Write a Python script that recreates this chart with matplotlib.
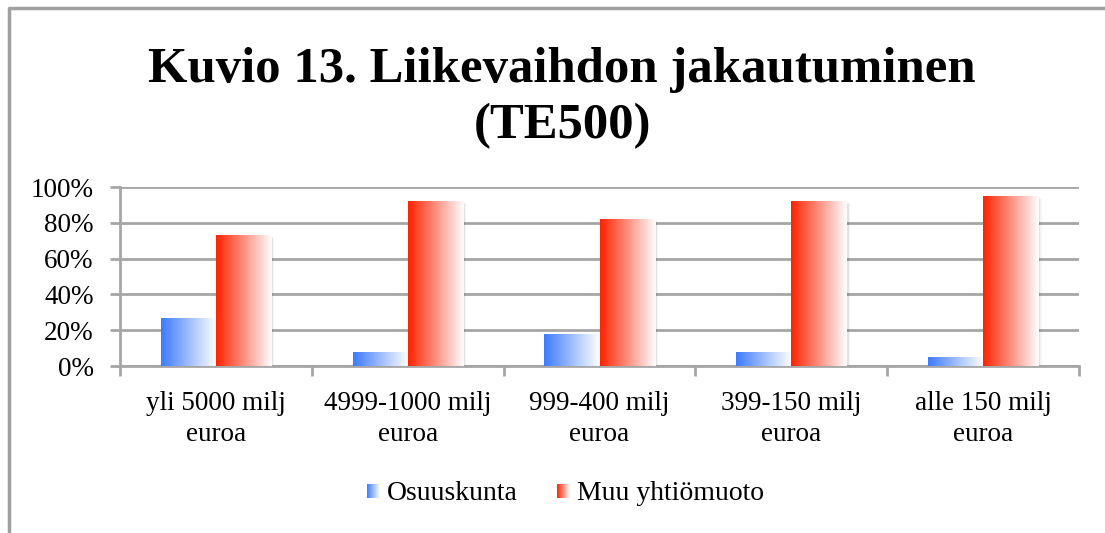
import numpy as np
import matplotlib
matplotlib.use("Agg")
import matplotlib.pyplot as plt
from matplotlib.colors import LinearSegmentedColormap
from matplotlib.patches import Rectangle

plt.rcParams['font.family'] = ['Liberation Serif', 'DejaVu Serif']

# data
categories = ['yli 5000 milj\neuroa', '4999-1000 milj\neuroa', '999-400 milj\neuroa',
              '399-150 milj\neuroa', 'alle 150 milj\neuroa']
osuuskunta = [27, 8, 18, 8, 5]
muu = [73, 92, 82, 92, 95]
series_names = ['Osuuskunta', 'Muu yhtiömuoto']
title_lines = ['Kuvio 13. Liikevaihdon jakautuminen', '(TE500)']

blue_cm = LinearSegmentedColormap.from_list('b', ['#3d7bff', '#ffffff'])
red_cm = LinearSegmentedColormap.from_list('r', ['#ff2200', '#ffffff'])
grad = np.linspace(0, 1, 256).reshape(1, -1)

W, H = 1105, 533
fig = plt.figure(figsize=(W / 100, H / 100), dpi=100)
ax = fig.add_axes([120 / W, 1 - 366 / H, (1079 - 120) / W, (366 - 187) / H])

x = np.arange(len(categories))
bw = 0.287
bars_b = ax.bar(x - bw / 2, osuuskunta, bw, color='none', zorder=3)
bars_r = ax.bar(x + bw / 2, muu, bw, color='none', zorder=3)

def fill_gradient(bars, cmap):
    for b in bars:
        x0, y0 = b.get_x(), b.get_y()
        w, h = b.get_width(), b.get_height()
        # soft shadow
        for i, a in enumerate([0.10, 0.07, 0.04]):
            ax.add_patch(Rectangle((x0 + 0.006 * (i + 1), y0 - 0.5 * (i + 1)), w, h,
                                   facecolor='black', alpha=a, lw=0, zorder=2))
        im = ax.imshow(grad, cmap=cmap, extent=(x0, x0 + w, y0, y0 + h),
                       aspect='auto', zorder=3, interpolation='bicubic')
        im.set_clip_path(b)

fill_gradient(bars_b, blue_cm)
fill_gradient(bars_r, red_cm)

ax.set_xlim(-0.5, len(categories) - 0.5)
ax.set_ylim(0, 100)
ax.set_yticks(np.arange(0, 101, 20))
ax.set_yticklabels([f'{v}%' for v in range(0, 101, 20)], fontsize=19.5)
ax.yaxis.grid(True, color='#a6a6a6', lw=2, zorder=0)
ax.set_axisbelow(True)

ax.set_xticks(np.arange(-0.5, len(categories), 1.0))
ax.set_xticklabels([])
ax.set_xticks(x, minor=True)
ax.set_xticklabels(categories, minor=True, fontsize=19.5, linespacing=1.3)
ax.tick_params(axis='x', which='minor', length=0, pad=18)
ax.tick_params(axis='x', which='major', length=7, width=2, color='#a6a6a6', direction='out')
ax.tick_params(axis='y', length=7, width=2, color='#a6a6a6', pad=12)

for s in ['top', 'right']:
    ax.spines[s].set_visible(False)
for s in ['left', 'bottom']:
    ax.spines[s].set_color('#a6a6a6')
    ax.spines[s].set_linewidth(2)

# title, one text per line
for txt, base in zip(title_lines, [82, 138]):
    fig.text(562 / W, 1 - base / H, txt, ha='center', va='baseline', fontsize=36.5,
             fontweight='bold')

# outer frame
ov = fig.add_axes([0, 0, 1, 1], facecolor='none', zorder=-1)
ov.axis('off')
ov.plot([9, 9, W + 5], [H + 5, 8, 8], color='#a0a0a0', lw=2.5, solid_capstyle='butt')

# legend
lx = [367, 557]
for px, name, cm in zip(lx, series_names, [blue_cm, red_cm]):
    ov.imshow(grad, cmap=cm, extent=(px, px + 13, 498, 484), aspect='auto',
              interpolation='bicubic')
    ov.text(px + 20, 493, name, fontsize=20, va='center', ha='left')
ov.set_xlim(0, W)
ov.set_ylim(H, 0)

fig.savefig('out.png', dpi=100)
